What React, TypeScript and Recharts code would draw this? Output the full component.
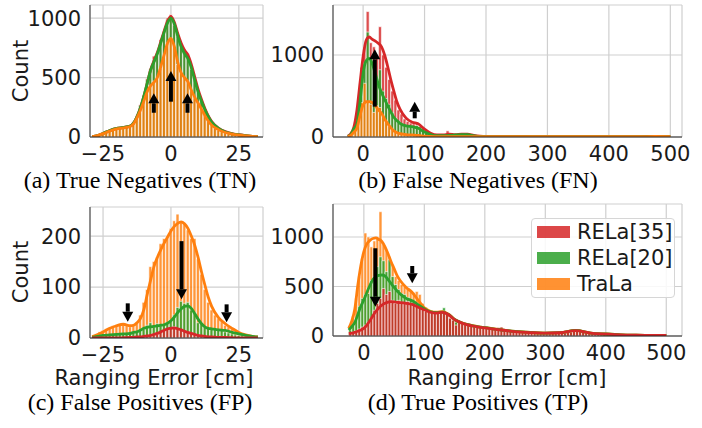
import React from "react";
import { ComposedChart, Bar, Line, XAxis, YAxis, CartesianGrid, ReferenceLine } from "recharts";

const RED = "#d62728";
const GREEN = "#2ca02c";
const ORANGE = "#ff7f0e";

// histogram bin centres: ±30 cm panels use 1.25 cm bins, 0..500 cm panels use 5 cm bins
const narrowBins = Array.from({ length: 49 }, (_, i) => -28.75 + 1.25 * i);
const wideBins = Array.from({ length: 105 }, (_, i) => -22.5 + 5 * i);

// (a) True Negatives
const tnRed = [4, 10, 22, 30, 48, 55, 70, 72, 80, 78, 86, 92, 130, 180, 270, 350, 490, 570, 680, 700, 820, 890, 1000, 1030, 950, 880, 780, 740, 700, 590, 510, 390, 320, 235, 180, 125, 100, 72, 60, 44, 36, 27, 22, 18, 15, 10, 8, 5, 3];
const tnGreen = [4, 10, 20, 30, 46, 54, 68, 70, 78, 76, 84, 90, 125, 175, 262, 345, 480, 560, 650, 690, 800, 880, 985, 1010, 940, 850, 760, 700, 665, 570, 490, 375, 305, 228, 172, 120, 96, 70, 58, 42, 34, 26, 21, 17, 14, 10, 7, 5, 3];
const tnOrange = [3, 10, 18, 28, 38, 50, 60, 68, 72, 76, 80, 90, 115, 170, 235, 315, 380, 430, 470, 500, 580, 690, 790, 830, 770, 610, 540, 500, 470, 390, 330, 290, 240, 180, 130, 100, 75, 58, 45, 35, 27, 22, 18, 15, 12, 9, 7, 5, 3];

// (b) False Negatives (bins up to 197.5, then the long tail)
const fnRed = [10, 40, 180, 450, 850, 1100, 1530, 1150, 1100, 1000, 1345, 1000, 850, 700, 560, 450, 330, 280, 220, 190, 170, 160, 180, 130, 100, 70, 45, 30, 25, 20, 25, 30, 75, 35, 30, 35, 40, 35, 40, 30, 20, 12, 8, 6, 5];
const fnGreen = [8, 30, 150, 400, 700, 900, 1280, 950, 880, 700, 820, 560, 470, 400, 300, 230, 190, 160, 140, 130, 125, 120, 140, 100, 70, 45, 30, 20, 15, 12, 15, 18, 25, 20, 25, 30, 30, 32, 30, 22, 15, 8, 5, 4, 3];
const fnOrange = [5, 20, 90, 250, 420, 655, 420, 400, 300, 380, 360, 250, 200, 130, 90, 60, 45, 35, 30, 25, 25, 25, 20, 15, 10, 8, 5, 4, 3, 3, 3, 3, 3, 3, 3, 3, 3, 3, 3, 3, 3, 3, 3, 3, 3];
const fnRedTail = [5, 5, 6, 6, 7, 8, 9, 10, 10, 9, 8, 7, 6, 6, 5, 5, 5, 5, 5, 5, 5, 5, 5, 5, 5, 5, 5, 5, 5, 5, 5, 5, 5, 5, 5, 5, 5, 5, 5, 5, 5, 5, 5, 5, 5, 5, 5, 5, 6, 6, 7, 7, 8, 9, 10, 10, 9, 8, 7, 6];
const fnLowTail = [4, 4, 4, 4, 4, 4, 4, 4, 4, 4, 4, 4, 4, 4, 4, 4, 4, 4, 4, 4, 4, 4, 4, 4, 4, 4, 4, 4, 4, 4, 4, 4, 4, 4, 4, 4, 4, 4, 4, 4, 4, 4, 4, 4, 4, 4, 4, 4, 5, 5, 6, 6, 7, 8, 8, 8, 7, 6, 5, 4];

// (c) False Positives
const fpRed = [0, 0, 0, 0, 0, 0, 0, 0, 0, 0, 0, 1, 1, 1, 2, 2, 3, 5, 6, 8, 12, 15, 18, 20, 22, 18, 16, 13, 12, 9, 7, 5, 4, 3, 2, 2, 1, 1, 1, 0, 0, 0, 0, 0, 0, 0, 0, 0, 0];
const fpGreen = [1, 2, 3, 4, 5, 6, 6, 7, 7, 8, 8, 9, 10, 12, 15, 18, 25, 30, 22, 28, 24, 26, 30, 35, 45, 60, 72, 68, 70, 55, 50, 30, 28, 22, 20, 18, 17, 15, 16, 12, 10, 8, 6, 5, 4, 3, 2, 2, 1];
const fpOrange = [3, 8, 12, 15, 18, 20, 24, 26, 28, 26, 25, 22, 26, 30, 45, 70, 95, 140, 150, 158, 185, 195, 200, 215, 230, 243, 228, 225, 212, 195, 195, 155, 125, 95, 70, 55, 45, 38, 32, 25, 22, 18, 13, 10, 8, 6, 4, 3, 2];

// (d) True Positives (bins up to 197.5, then a tail shared by all three)
const tpRed = [30, 40, 50, 70, 90, 110, 140, 180, 260, 330, 380, 480, 420, 450, 360, 330, 360, 340, 330, 350, 330, 320, 300, 290, 270, 250, 245, 240, 230, 235, 245, 250, 225, 180, 160, 110, 150, 140, 130, 120, 115, 110, 100, 95, 90];
const tpGreen = [60, 110, 170, 300, 380, 420, 430, 560, 600, 700, 800, 760, 650, 770, 600, 520, 470, 430, 420, 390, 370, 350, 330, 320, 290, 270, 250, 240, 235, 240, 255, 285, 230, 180, 160, 140, 130, 120, 115, 110, 100, 95, 90, 85, 85];
const tpOrange = [90, 200, 380, 600, 780, 1040, 1000, 900, 960, 990, 1255, 930, 870, 800, 720, 600, 560, 520, 500, 480, 450, 440, 450, 420, 330, 290, 260, 250, 240, 240, 250, 255, 230, 180, 160, 140, 130, 120, 115, 110, 100, 95, 90, 85, 85];
const tpTail = [85, 80, 80, 75, 85, 90, 70, 55, 50, 45, 40, 40, 35, 32, 30, 30, 28, 28, 26, 25, 25, 27, 25, 28, 30, 30, 32, 35, 40, 50, 65, 55, 40, 35, 30, 25, 22, 20, 18, 17, 15, 13, 12, 10, 9, 8, 8, 7, 7, 6, 6, 6, 6, 5, 5, 5, 5, 5, 5, 5];

// KDE curves
const narrowKdeX = [-29, -27, -25, -22.5, -20, -17.5, -15, -13.75, -12.5, -11.25, -10, -8.75, -7.5, -6.25, -5, -3.75, -2.5, -1.25, 0, 1.25, 2.5, 3.75, 5, 6.25, 7.5, 8.75, 10, 11.25, 12.5, 13.75, 15, 17.5, 20, 22.5, 25, 27.5, 30, 32];
const tnRedKde = [3, 12, 30, 55, 73, 80, 92, 118, 170, 245, 340, 450, 565, 640, 710, 800, 890, 975, 1012, 965, 870, 790, 730, 690, 610, 505, 400, 315, 240, 178, 130, 75, 45, 28, 19, 12, 6, 3];
const tnGreenKde = [3, 12, 30, 55, 73, 80, 92, 118, 170, 245, 340, 450, 560, 630, 700, 790, 880, 960, 1000, 950, 850, 760, 700, 660, 585, 480, 380, 300, 230, 170, 125, 72, 42, 27, 18, 11, 5, 3];
const tnOrangeKde = [3, 12, 28, 50, 68, 76, 88, 110, 160, 225, 300, 380, 430, 460, 500, 590, 690, 790, 830, 760, 630, 540, 500, 465, 395, 335, 285, 235, 180, 135, 100, 62, 38, 24, 16, 10, 5, 3];
const fpRedKde = [0, 0, 0, 0, 0, 0.5, 1, 1, 2, 2, 3, 4, 5, 7, 9, 12, 15, 18, 19, 20, 18, 16, 13, 11, 9, 7, 5, 4, 3, 2, 2, 1, 1, 0.5, 0, 0, 0, 0];
const fpGreenKde = [1, 3, 5, 6, 7, 8, 9, 11, 12, 15, 19, 21, 22, 23, 24, 25, 26, 29, 34, 41, 50, 57, 62, 63, 58, 48, 37, 28, 22, 19, 18, 16, 15, 11, 8, 5, 3, 2];
const fpOrangeKde = [3, 7, 12, 19, 24, 27, 24, 25, 30, 38, 55, 85, 113, 140, 158, 173, 186, 198, 210, 219, 225, 228, 224, 215, 200, 182, 158, 130, 104, 80, 62, 40, 28, 19, 11, 6, 3, 2];

const wideKdeX = [-25, -20, -15, -10, -5, 0, 5, 10, 15, 20, 25, 30, 35, 40, 45, 50, 55, 60, 70, 80, 90, 100, 110, 120, 130, 140, 150, 160, 170, 180, 190, 200, 225, 250, 275, 300, 325, 350, 375, 400, 425, 450, 475, 500];
const fnRedKde = [10, 40, 120, 330, 660, 980, 1180, 1220, 1190, 1170, 1140, 1100, 1000, 860, 700, 560, 430, 340, 230, 180, 160, 95, 45, 25, 25, 35, 30, 35, 35, 20, 10, 6, 6, 8, 5, 4, 4, 4, 4, 4, 4, 5, 7, 4];
const fnGreenKde = [8, 30, 100, 160, 430, 776, 930, 960, 890, 770, 640, 540, 460, 380, 310, 240, 200, 167, 135, 126, 106, 60, 30, 15, 15, 20, 25, 30, 28, 15, 6, 4, 3, 3, 3, 3, 3, 3, 3, 3, 3, 3, 3, 3];
const fnOrangeKde = [5, 20, 60, 110, 260, 390, 430, 432, 420, 380, 330, 289, 220, 165, 115, 75, 55, 40, 30, 25, 20, 10, 6, 5, 4, 4, 4, 4, 4, 4, 4, 4, 4, 4, 4, 4, 4, 4, 4, 4, 4, 4, 6, 4];
const tpRedKde = [27, 30, 38, 48, 60, 77, 110, 155, 205, 250, 285, 312, 330, 342, 347, 345, 340, 337, 330, 320, 290, 265, 240, 232, 238, 215, 165, 135, 115, 101, 90, 82, 62, 45, 35, 29, 33, 55, 29, 19, 11, 8, 6, 5];
const tpGreenKde = [60, 95, 135, 215, 300, 364, 440, 510, 570, 600, 612, 616, 606, 570, 530, 490, 455, 425, 380, 355, 315, 275, 245, 236, 242, 218, 167, 137, 117, 103, 92, 84, 63, 46, 36, 30, 34, 56, 30, 20, 12, 8, 6, 5];
const tpOrangeKde = [77, 150, 270, 510, 710, 852, 930, 965, 985, 990, 975, 953, 900, 830, 750, 680, 610, 560, 490, 440, 360, 285, 250, 240, 245, 220, 168, 138, 118, 104, 93, 85, 64, 47, 36, 30, 34, 56, 30, 20, 12, 8, 6, 5];

const legendItems = [
  { name: "RELa[35]", color: RED },
  { name: "RELa[20]", color: GREEN },
  { name: "TraLa", color: ORANGE },
];

type Series = { color: string; values: number[] };
type Arrow = { x: number; from: number; to: number };
type Panel = {
  left: number;
  top: number;
  width: number;
  height: number;
  marginTop: number;
  marginRight: number;
  yWidth: number;
  xDomain: [number, number];
  xTicks: number[];
  yDomain: [number, number];
  yTicks: number[];
  bins: number[];
  hist: Series[]; // bottom -> top
  kdeX: number[];
  kde: Series[];
  arrows: Arrow[];
};

const rows = (xs: number[], ys: number[]) => xs.map((x, i) => ({ x, y: ys[i] }));
const kdeRows = (xs: number[], series: Series[]) =>
  xs.map((x, i) => {
    const r: Record<string, number> = { x };
    series.forEach((s, k) => (r["s" + k] = s.values[i]));
    return r;
  });

const minus = (v: number) => String(v).replace("-", "\u2212");
const tickFont = { fontSize: 21, fill: "#1a1a1a", fontFamily: "DejaVu Sans" };

const arrowShape = (props: any) => {
  const { x1, y1, x2, y2 } = props;
  const dir = y2 < y1 ? -1 : 1;
  const head = 10;
  const half = 5.5;
  return (
    <g>
      <line x1={x1} y1={y1} x2={x2} y2={y2 - dir * head} stroke="#000" strokeWidth={4} />
      <polygon
        points={`${x2},${y2} ${x2 - half},${y2 - dir * head} ${x2 + half},${y2 - dir * head}`}
        fill="#000"
      />
    </g>
  );
};

function PanelChart({ p }: { p: Panel }) {
  const margin = { top: p.marginTop, right: p.marginRight, bottom: 0, left: 0 };
  const kdeData = kdeRows(p.kdeX, p.kde);
  const axes = (base: boolean, top: boolean) => [
    <XAxis
      key="x"
      type="number"
      dataKey="x"
      domain={p.xDomain}
      ticks={p.xTicks}
      allowDataOverflow
      interval={0}
      height={33}
      tick={base ? tickFont : false}
      tickFormatter={minus}
      tickLine={false}
      tickSize={5}
      tickMargin={4}
      axisLine={top ? { stroke: "#222", strokeWidth: 1.2 } : false}
    />,
    <YAxis
      key="y"
      type="number"
      domain={p.yDomain}
      ticks={p.yTicks}
      allowDataOverflow
      interval={0}
      width={p.yWidth}
      tick={base ? tickFont : false}
      tickLine={false}
      tickSize={0}
      tickMargin={9}
      axisLine={top ? { stroke: "#555", strokeWidth: 1.2 } : false}
    />,
  ];
  return (
    <>
      {p.hist.map((s, i) => (
        <div key={i} style={{ position: "absolute", left: p.left, top: p.top }}>
          <ComposedChart
            width={p.width}
            height={p.height}
            margin={margin}
            data={rows(p.bins, s.values)}
            barCategoryGap={0}
          >
            {i === 0 && <CartesianGrid stroke="#cfcfcf" strokeWidth={1.2} />}
            {axes(i === 0, false)}
            <Bar
              dataKey="y"
              fill={s.color}
              fillOpacity={0.82}
              stroke="#ffffff"
              strokeWidth={0.6}
              isAnimationActive={false}
            />
          </ComposedChart>
        </div>
      ))}
      <div style={{ position: "absolute", left: p.left, top: p.top }}>
        <ComposedChart width={p.width} height={p.height} margin={margin} data={kdeData}>
          {axes(false, true)}
          {p.kde.map((s, k) => (
            <Line
              key={k}
              type="monotone"
              dataKey={"s" + k}
              stroke={s.color}
              strokeWidth={2.8}
              dot={false}
              activeDot={false}
              isAnimationActive={false}
            />
          ))}
          {p.arrows.map((a, k) => (
            <ReferenceLine
              key={"a" + k}
              segment={[
                { x: a.x, y: a.from },
                { x: a.x, y: a.to },
              ]}
              shape={arrowShape}
            />
          ))}
        </ComposedChart>
      </div>
    </>
  );
}

const panels: Panel[] = [
  {
    left: 0, top: 0, width: 270, height: 170, marginTop: 5, marginRight: 7, yWidth: 90,
    xDomain: [-29.8, 33.9], xTicks: [-25, 0, 25], yDomain: [0, 1110], yTicks: [0, 500, 1000],
    bins: narrowBins,
    hist: [{ color: RED, values: tnRed }, { color: GREEN, values: tnGreen }, { color: ORANGE, values: tnOrange }],
    kdeX: narrowKdeX,
    kde: [{ color: RED, values: tnRedKde }, { color: GREEN, values: tnGreenKde }, { color: ORANGE, values: tnOrangeKde }],
    arrows: [{ x: -6.3, from: 204, to: 367 }, { x: 0, from: 297, to: 555 }, { x: 6.1, from: 204, to: 367 }],
  },
  {
    left: 270, top: 0, width: 420, height: 170, marginTop: 5, marginRight: 8, yWidth: 63,
    xDomain: [-49, 519], xTicks: [0, 100, 200, 300, 400, 500], yDomain: [0, 1610], yTicks: [0, 1000],
    bins: wideBins,
    hist: [
      { color: RED, values: [...fnRed, ...fnRedTail] },
      { color: GREEN, values: [...fnGreen, ...fnLowTail] },
      { color: ORANGE, values: [...fnOrange, ...fnLowTail] },
    ],
    kdeX: wideKdeX,
    kde: [{ color: RED, values: fnRedKde }, { color: GREEN, values: fnGreenKde }, { color: ORANGE, values: fnOrangeKde }],
    arrows: [{ x: 19, from: 370, to: 1069 }, { x: 84, from: 228, to: 431 }],
  },
  {
    left: 0, top: 200, width: 270, height: 171, marginTop: 7, marginRight: 7, yWidth: 90,
    xDomain: [-29.8, 33.9], xTicks: [-25, 0, 25], yDomain: [0, 257], yTicks: [0, 100, 200],
    bins: narrowBins,
    hist: [{ color: ORANGE, values: fpOrange }, { color: GREEN, values: fpGreen }, { color: RED, values: fpRed }],
    kdeX: narrowKdeX,
    kde: [{ color: ORANGE, values: fpOrangeKde }, { color: GREEN, values: fpGreenKde }, { color: RED, values: fpRedKde }],
    arrows: [{ x: -15.9, from: 68, to: 32 }, { x: 3.9, from: 190, to: 76 }, { x: 20.5, from: 66, to: 31 }],
  },
  {
    left: 270, top: 200, width: 420, height: 169, marginTop: 4, marginRight: 8, yWidth: 63,
    xDomain: [-51, 526], xTicks: [0, 100, 200, 300, 400, 500], yDomain: [0, 1333], yTicks: [0, 500, 1000],
    bins: wideBins,
    hist: [
      { color: ORANGE, values: [...tpOrange, ...tpTail] },
      { color: GREEN, values: [...tpGreen, ...tpTail] },
      { color: RED, values: [...tpRed, ...tpTail] },
    ],
    kdeX: wideKdeX,
    kde: [{ color: ORANGE, values: tpOrangeKde }, { color: GREEN, values: tpGreenKde }, { color: RED, values: tpRedKde }],
    arrows: [{ x: 19, from: 886, to: 296 }, { x: 80, from: 707, to: 532 }],
  },
];

const sans = "DejaVu Sans";
const serif = "Liberation Serif";

export default function App() {
  return (
    <div style={{ position: "absolute", left: 0, top: 0, width: 702, height: 428, background: "#fff", overflow: "hidden" }}>
      <svg width={702} height={428} style={{ position: "absolute", left: 0, top: 0 }}>
        <text x={28} y={71} transform="rotate(-90 28 71)" textAnchor="middle" fontSize={21} fontFamily={sans} fill="#1a1a1a">Count</text>
        <text x={28} y={272} transform="rotate(-90 28 272)" textAnchor="middle" fontSize={21} fontFamily={sans} fill="#1a1a1a">Count</text>
        <text x={154} y={385} textAnchor="middle" fontSize={21} fontFamily={sans} fill="#1a1a1a">Ranging Error [cm]</text>
        <text x={507} y={385} textAnchor="middle" fontSize={21} fontFamily={sans} fill="#1a1a1a">Ranging Error [cm]</text>
        <text x={140} y={188} textAnchor="middle" fontSize={24} fontFamily={serif} fill="#000">(a) True Negatives (TN)</text>
        <text x={478} y={188} textAnchor="middle" fontSize={24} fontFamily={serif} fill="#000">(b) False Negatives (FN)</text>
        <text x={140} y={410} textAnchor="middle" fontSize={24} fontFamily={serif} fill="#000">(c) False Positives (FP)</text>
        <text x={478} y={410} textAnchor="middle" fontSize={24} fontFamily={serif} fill="#000">(d) True Positives (TP)</text>
      </svg>
      {panels.map((p, i) => (
        <PanelChart key={i} p={p} />
      ))}
      <div
        style={{
          position: "absolute", left: 531, top: 218, width: 142, height: 78,
          border: "1px solid #d6d6d6", borderRadius: 4, background: "rgba(255,255,255,0.85)",
          fontFamily: sans, fontSize: 21, color: "#1a1a1a",
        }}
      >
        {legendItems.map((it) => (
          <div key={it.name} style={{ display: "flex", alignItems: "center", height: 26, marginLeft: 5 }}>
            <span style={{ display: "inline-block", width: 33, height: 12, background: it.color, opacity: 0.85, marginRight: 7 }} />
            <span style={{ lineHeight: "26px" }}>{it.name}</span>
          </div>
        ))}
      </div>
    </div>
  );
}
